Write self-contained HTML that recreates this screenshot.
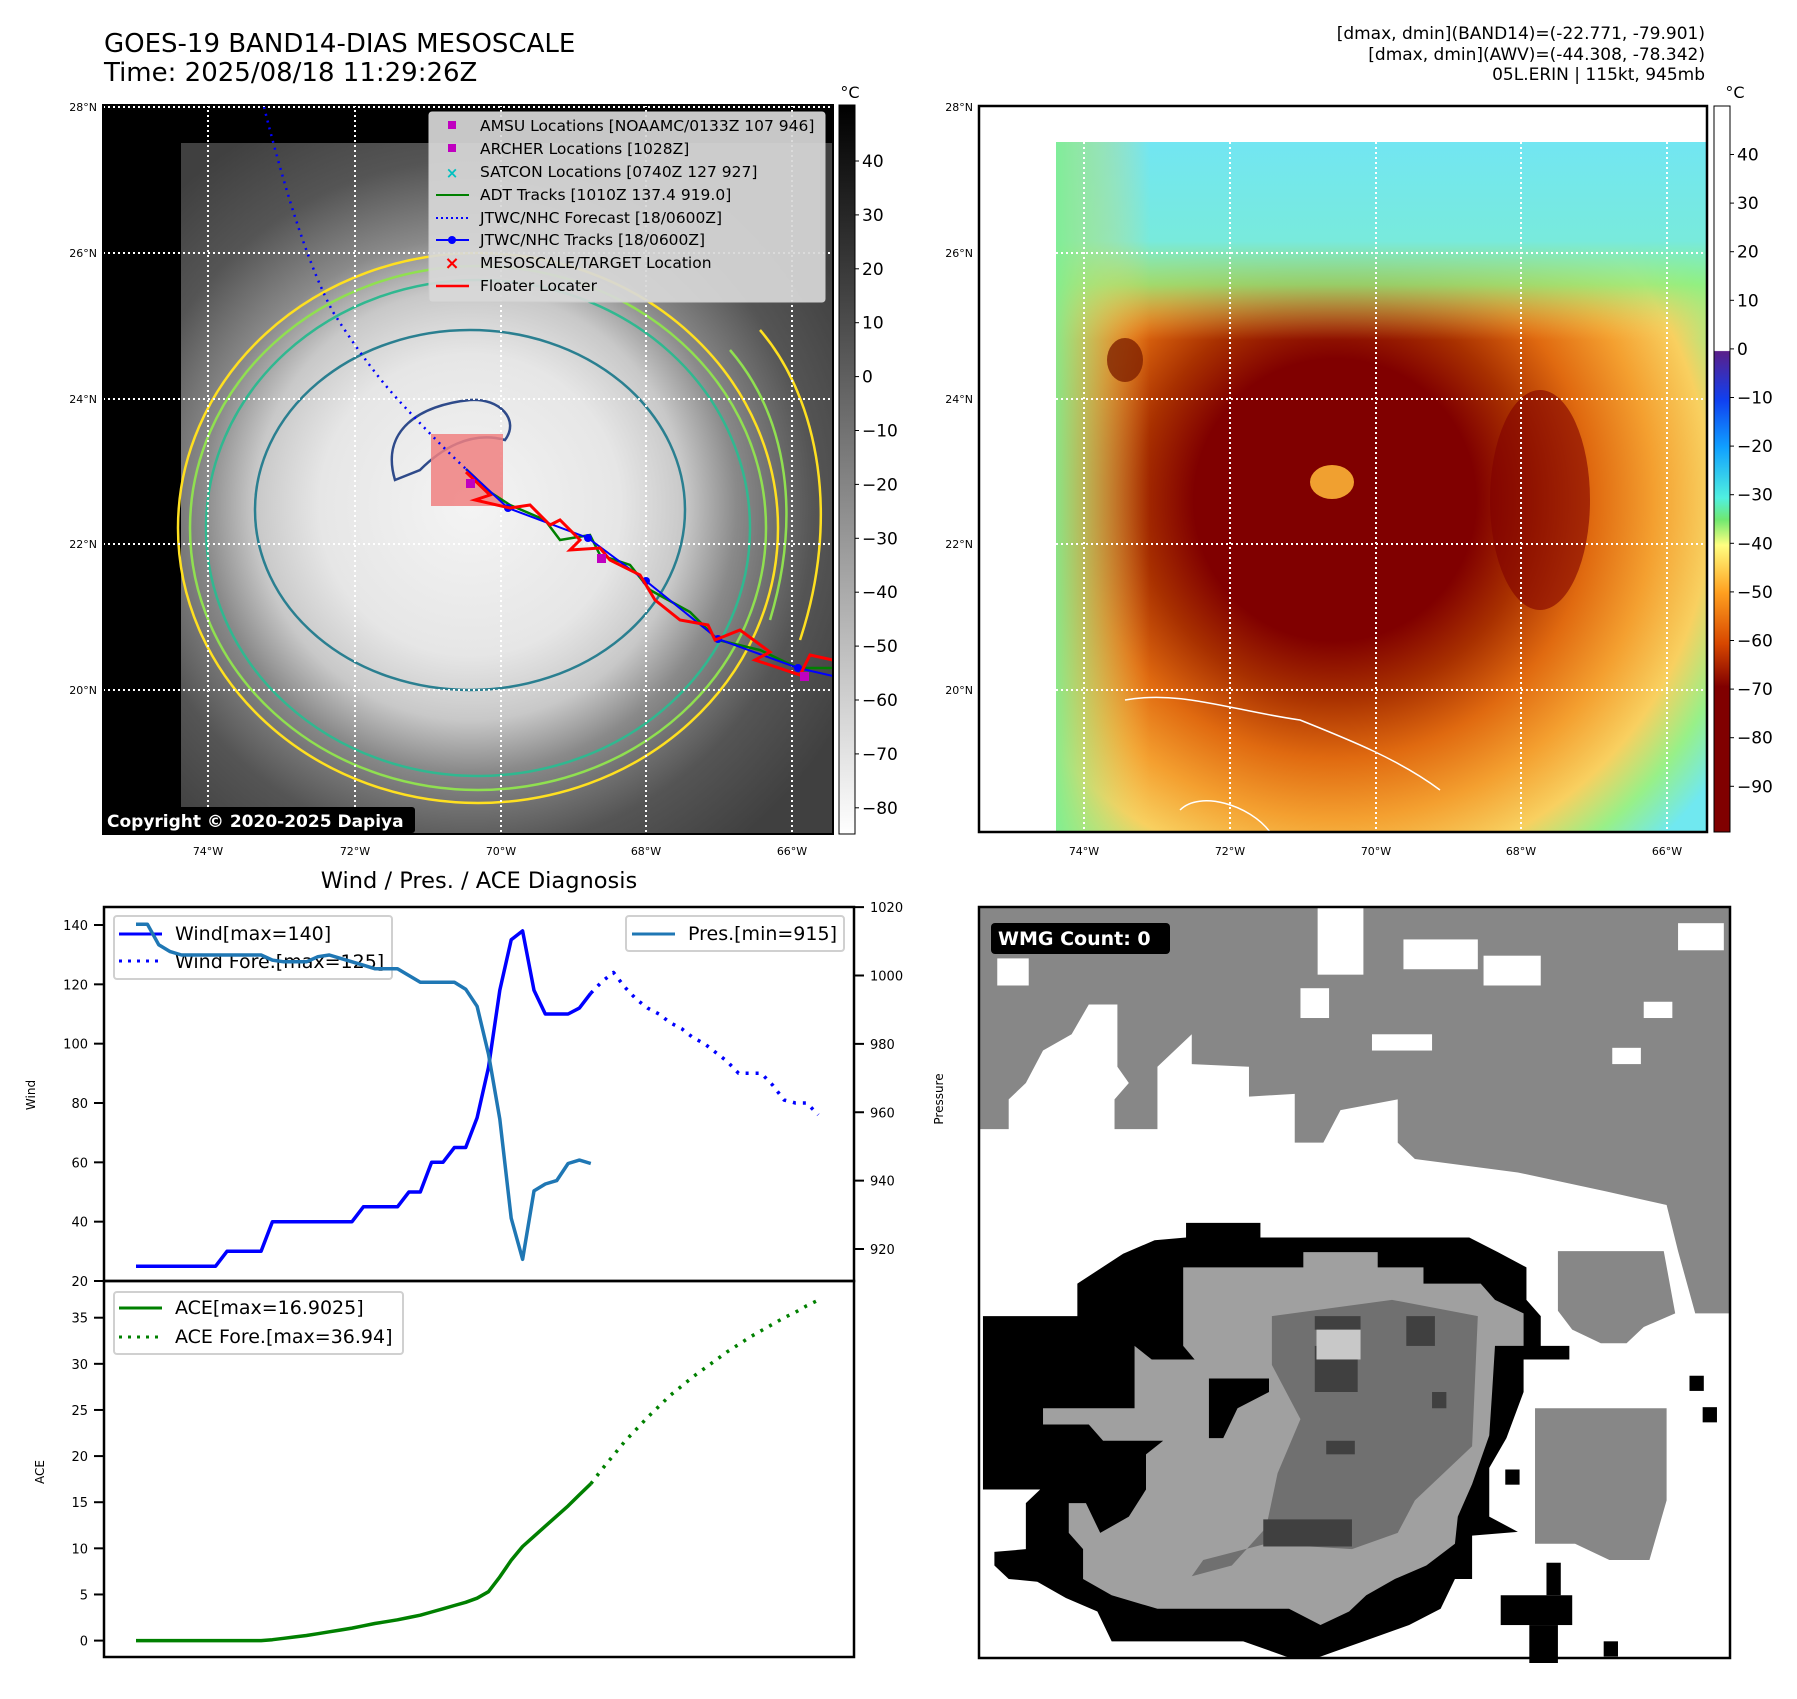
<!DOCTYPE html>
<html><head><meta charset="utf-8">
<style>
html,body{margin:0;padding:0;background:#fff;}
body{width:1797px;height:1694px;position:relative;overflow:hidden;font-family:"Liberation Sans","DejaVu Sans",sans-serif;}
svg text{font-family:"DejaVu Sans","Liberation Sans",sans-serif;}
</style></head>
<body>
<svg id="root" width="1797" height="1694" viewBox="0 0 1797 1694" xmlns="http://www.w3.org/2000/svg">
<defs>
  <radialGradient id="irGray" cx="470" cy="505" r="430" gradientUnits="userSpaceOnUse">
    <stop offset="0" stop-color="#f4f4f4"/>
    <stop offset="0.35" stop-color="#e6e6e6"/>
    <stop offset="0.5" stop-color="#c8c8c8"/>
    <stop offset="0.62" stop-color="#8a8a8a"/>
    <stop offset="0.8" stop-color="#555"/>
    <stop offset="1" stop-color="#404040"/>
  </radialGradient>
  <radialGradient id="irColor" cx="1335" cy="500" r="470" gradientUnits="userSpaceOnUse">
    <stop offset="0" stop-color="#800000"/>
    <stop offset="0.3" stop-color="#800000"/>
    <stop offset="0.42" stop-color="#a83000"/>
    <stop offset="0.55" stop-color="#e06a10"/>
    <stop offset="0.68" stop-color="#f4a030"/>
    <stop offset="0.8" stop-color="#f8d060"/>
    <stop offset="0.9" stop-color="#98f088"/>
    <stop offset="1" stop-color="#70e8f0"/>
  </radialGradient>
  <linearGradient id="topCyan" x1="0" y1="142" x2="0" y2="340" gradientUnits="userSpaceOnUse">
    <stop offset="0" stop-color="#72e6f2" stop-opacity="1"/>
    <stop offset="0.5" stop-color="#78eadc" stop-opacity="1"/>
    <stop offset="0.72" stop-color="#90f080" stop-opacity="0.8"/>
    <stop offset="1" stop-color="#f8d060" stop-opacity="0"/>
  </linearGradient>
  <linearGradient id="leftGreen" x1="1056" y1="0" x2="1150" y2="0" gradientUnits="userSpaceOnUse">
    <stop offset="0" stop-color="#80ee90" stop-opacity="0.9"/>
    <stop offset="1" stop-color="#f8d060" stop-opacity="0"/>
  </linearGradient>
  <linearGradient id="cbGray" x1="0" y1="0" x2="0" y2="1">
    <stop offset="0" stop-color="#000"/><stop offset="1" stop-color="#fff"/>
  </linearGradient>
  <linearGradient id="cbColor" x1="0" y1="106" x2="0" y2="832" gradientUnits="userSpaceOnUse">
    <stop offset="0" stop-color="#fff"/>
    <stop offset="0.337" stop-color="#fff"/>
    <stop offset="0.338" stop-color="#5a1f8a"/>
    <stop offset="0.405" stop-color="#1040f0"/>
    <stop offset="0.47" stop-color="#10a0ff"/>
    <stop offset="0.54" stop-color="#50f0e0"/>
    <stop offset="0.57" stop-color="#70e870"/>
    <stop offset="0.605" stop-color="#ffff80"/>
    <stop offset="0.67" stop-color="#ffa020"/>
    <stop offset="0.74" stop-color="#d84800"/>
    <stop offset="0.8" stop-color="#800000"/>
    <stop offset="1" stop-color="#800000"/>
  </linearGradient>
  <clipPath id="clipL"><rect x="103" y="105" width="730" height="729"/></clipPath>
  <clipPath id="clipR"><rect x="979" y="106" width="728" height="726"/></clipPath>
</defs>

<text x="104" y="52" font-size="26" fill="#000">GOES-19 BAND14-DIAS MESOSCALE</text>
<text x="104" y="81" font-size="26" fill="#000">Time: 2025/08/18 11:29:26Z</text>
<g font-size="17" fill="#000" text-anchor="end">
  <text x="1705" y="39">[dmax, dmin](BAND14)=(-22.771, -79.901)</text>
  <text x="1705" y="60">[dmax, dmin](AWV)=(-44.308, -78.342)</text>
  <text x="1705" y="80">05L.ERIN | 115kt, 945mb</text>
</g>

<!-- top-left map -->
<g clip-path="url(#clipL)">
  <rect x="103" y="105" width="730" height="729" fill="#000"/>
  <rect x="181" y="143" width="652" height="691" fill="url(#irGray)"/>
  <g fill="none" stroke-width="2.5">
    <ellipse cx="478" cy="528" rx="300" ry="275" stroke="#ffe020"/>
    <ellipse cx="478" cy="528" rx="288" ry="262" stroke="#90e050"/>
    <ellipse cx="478" cy="528" rx="272" ry="248" stroke="#30b890"/>
    <ellipse cx="470" cy="510" rx="215" ry="180" stroke="#2a7f90"/>
    <path d="M395,480 C380,430 420,405 470,400 C500,398 520,420 505,440 C470,430 440,450 420,470 Z" stroke="#2e4a8a"/>
    <path d="M760,330 C820,400 840,520 800,640" stroke="#ffe020"/>
    <path d="M730,350 C790,420 800,520 770,620" stroke="#90e050"/>
  </g>
  <g stroke="#fff" stroke-width="2" stroke-dasharray="2,3">
    <line x1="208" y1="105" x2="208" y2="834"/><line x1="355" y1="105" x2="355" y2="834"/>
    <line x1="501" y1="105" x2="501" y2="834"/><line x1="646" y1="105" x2="646" y2="834"/>
    <line x1="792" y1="105" x2="792" y2="834"/>
    <line x1="103" y1="107" x2="833" y2="107"/><line x1="103" y1="253" x2="833" y2="253"/>
    <line x1="103" y1="399" x2="833" y2="399"/><line x1="103" y1="544" x2="833" y2="544"/>
    <line x1="103" y1="690" x2="833" y2="690"/>
  </g>
  <rect x="431" y="434" width="72" height="72" fill="#f08080" opacity="0.85"/>
  <path d="M264,107 Q300,250 333,312 Q370,370 402,404 Q440,445 466,469" fill="none" stroke="#0000ff" stroke-width="2.5" stroke-dasharray="2,5"/>
  <polyline points="466,469 490,492 510,505 545,520 560,540 590,535 600,555 630,565 650,590 690,612 718,640 760,650 798,668 833,668" fill="none" stroke="#008000" stroke-width="2.5"/>
  <polyline points="466,469 508,508 588,538 646,581 718,639 798,668 833,676" fill="none" stroke="#0000ff" stroke-width="2"/>
  <g fill="#0000ff"><circle cx="508" cy="508" r="4"/><circle cx="588" cy="538" r="4"/><circle cx="646" cy="581" r="4"/><circle cx="718" cy="639" r="4"/><circle cx="798" cy="668" r="4"/></g>
  <polyline points="466,472 490,495 475,500 510,508 530,505 550,525 560,520 580,540 570,550 600,548 610,560 640,575 655,600 680,620 708,625 715,640 740,630 770,652 755,660 800,675 810,655 833,660" fill="none" stroke="#ff0000" stroke-width="3"/>
  <g fill="#c000c0"><rect x="466" y="479" width="9" height="9"/><rect x="597" y="554" width="9" height="9"/><rect x="800" y="672" width="9" height="9"/></g>
  <rect x="102" y="807" width="313" height="26" rx="3" fill="#000"/>
  <text x="107" y="827" font-size="17" font-weight="bold" fill="#fff">Copyright © 2020-2025 Dapiya</text>
</g>
<rect x="103" y="105" width="730" height="729" fill="none" stroke="#000" stroke-width="2"/>
<g>
  <rect x="429" y="112" width="396" height="190" rx="3" fill="#d8d8d8" fill-opacity="0.92" stroke="#ccc"/>
  <g font-size="15.5" fill="#000">
    <rect x="448" y="121" width="8" height="8" fill="#c000c0"/><text x="480" y="131">AMSU Locations [NOAAMC/0133Z 107 946]</text>
    <rect x="448" y="144" width="8" height="8" fill="#c000c0"/><text x="480" y="154">ARCHER Locations [1028Z]</text>
    <text x="452" y="178" text-anchor="middle" fill="#00c0c0" font-size="15" font-weight="bold">×</text><text x="480" y="177">SATCON Locations [0740Z 127 927]</text>
    <line x1="436" y1="195" x2="469" y2="195" stroke="#008000" stroke-width="2"/><text x="480" y="200">ADT Tracks [1010Z 137.4 919.0]</text>
    <line x1="436" y1="218" x2="469" y2="218" stroke="#0000ff" stroke-width="2" stroke-dasharray="2,3"/><text x="480" y="223">JTWC/NHC Forecast [18/0600Z]</text>
    <line x1="436" y1="240" x2="469" y2="240" stroke="#0000ff" stroke-width="2"/><circle cx="452" cy="240" r="4" fill="#0000ff"/><text x="480" y="245">JTWC/NHC Tracks [18/0600Z]</text>
    <text x="452" y="269" text-anchor="middle" fill="#ff0000" font-size="18" font-weight="bold">×</text><text x="480" y="268">MESOSCALE/TARGET Location</text>
    <line x1="436" y1="286" x2="469" y2="286" stroke="#ff0000" stroke-width="2.5"/><text x="480" y="291">Floater Locater</text>
  </g>
</g>
<rect x="839" y="105" width="16" height="729" fill="url(#cbGray)" stroke="#000" stroke-width="1"/>
<text x="850" y="98" font-size="16" text-anchor="middle">°C</text>
<g id="cbL" font-size="17" fill="#000"></g>
<g font-size="11" fill="#000">
  <text x="97" y="111" text-anchor="end">28°N</text><text x="97" y="257" text-anchor="end">26°N</text>
  <text x="97" y="403" text-anchor="end">24°N</text><text x="97" y="548" text-anchor="end">22°N</text>
  <text x="97" y="694" text-anchor="end">20°N</text>
  <text x="208" y="855" text-anchor="middle">74°W</text><text x="355" y="855" text-anchor="middle">72°W</text>
  <text x="501" y="855" text-anchor="middle">70°W</text><text x="646" y="855" text-anchor="middle">68°W</text>
  <text x="792" y="855" text-anchor="middle">66°W</text>
</g>

<!-- top-right map -->
<g clip-path="url(#clipR)">
  <rect x="979" y="106" width="728" height="726" fill="#fff"/>
  <rect x="1056" y="142" width="651" height="690" fill="url(#irColor)"/>
  <rect x="1056" y="142" width="651" height="200" fill="url(#topCyan)"/>
  <rect x="1056" y="142" width="100" height="690" fill="url(#leftGreen)"/>
  <ellipse cx="1125" cy="360" rx="18" ry="22" fill="#802000" opacity="0.8"/>
  <ellipse cx="1540" cy="500" rx="50" ry="110" fill="#800000" opacity="0.6"/>
  <ellipse cx="1332" cy="482" rx="22" ry="17" fill="#f0a030"/>
  <g stroke="#fff" stroke-width="2" stroke-dasharray="2,3">
    <line x1="1084" y1="142" x2="1084" y2="832"/><line x1="1230" y1="142" x2="1230" y2="832"/>
    <line x1="1376" y1="142" x2="1376" y2="832"/><line x1="1521" y1="142" x2="1521" y2="832"/>
    <line x1="1667" y1="142" x2="1667" y2="832"/>
    <line x1="1056" y1="253" x2="1707" y2="253"/><line x1="1056" y1="399" x2="1707" y2="399"/>
    <line x1="1056" y1="544" x2="1707" y2="544"/><line x1="1056" y1="690" x2="1707" y2="690"/>
  </g>
  <path d="M1125,700 C1180,690 1230,710 1300,720 C1350,740 1400,760 1440,790 M1180,810 C1200,790 1250,805 1270,832" fill="none" stroke="#fff" stroke-width="1.5"/>
</g>
<rect x="979" y="106" width="728" height="726" fill="none" stroke="#000" stroke-width="2.5"/>
<rect x="1714" y="106" width="16" height="726" fill="url(#cbColor)" stroke="#000" stroke-width="1"/>
<text x="1735" y="98" font-size="16" text-anchor="middle">°C</text>
<g id="cbR" font-size="17" fill="#000"></g>
<g font-size="11" fill="#000">
  <text x="973" y="111" text-anchor="end">28°N</text><text x="973" y="257" text-anchor="end">26°N</text>
  <text x="973" y="403" text-anchor="end">24°N</text><text x="973" y="548" text-anchor="end">22°N</text>
  <text x="973" y="694" text-anchor="end">20°N</text>
  <text x="1084" y="855" text-anchor="middle">74°W</text><text x="1230" y="855" text-anchor="middle">72°W</text>
  <text x="1376" y="855" text-anchor="middle">70°W</text><text x="1521" y="855" text-anchor="middle">68°W</text>
  <text x="1667" y="855" text-anchor="middle">66°W</text>
</g>

<text x="479" y="888" font-size="22.5" text-anchor="middle">Wind / Pres. / ACE Diagnosis</text>
<g id="chart"></g>

<!-- bottom-right WMG -->
<g>
  <rect x="979" y="907" width="751" height="751" fill="#fff"/>
  <g transform="translate(900,850) scale(0.5721,0.542)">
    <path d="M140,105 L1450,105 L1450,855 L1390,855 L1360,740 L1340,655 L1235,630 L1080,595 L900,570 L870,540 L870,460 L770,480 L740,540 L690,540 L690,450 L610,455 L610,400 L510,395 L510,340 L450,400 L450,515 L375,515 L375,460 L400,430 L380,400 L380,285 L330,285 L300,340 L250,370 L220,430 L190,460 L190,515 L140,515 Z" fill="#878787"/>
    <g fill="#fff">
      <rect x="730" y="105" width="80" height="125"/><rect x="880" y="165" width="130" height="55"/>
      <rect x="1360" y="135" width="80" height="50"/><rect x="1020" y="195" width="100" height="55"/>
      <rect x="1300" y="280" width="50" height="30"/><rect x="1245" y="365" width="50" height="30"/>
      <rect x="170" y="200" width="55" height="50"/><rect x="700" y="255" width="50" height="55"/>
      <rect x="825" y="340" width="105" height="30"/>
    </g>
    <path d="M1150,740 L1335,740 L1355,855 L1300,880 L1270,910 L1225,910 L1175,885 L1150,850 Z" fill="#878787"/>
    <path d="M1110,1030 L1340,1030 L1340,1200 L1310,1310 L1240,1310 L1180,1280 L1110,1280 L1110,1200 Z" fill="#878787"/>
    <path d="M500,688 L630,688 L630,715 L995,715 L1045,742 L1095,770 L1095,830 L1120,860 L1120,915 L1170,915 L1170,940 L1090,940 L1090,1000 L1060,1085 L1030,1140 L1030,1230 L1080,1258 L1000,1265 L1000,1345 L970,1345 L945,1400 L890,1430 L810,1460 L730,1490 L680,1490 L600,1460 L370,1460 L345,1405 L290,1380 L240,1350 L190,1345 L165,1320 L165,1295 L220,1290 L220,1205 L245,1180 L145,1180 L145,860 L310,860 L310,800 L390,745 L445,720 L500,715 Z" fill="#000"/>
    <path d="M495,770 L705,770 L705,742 L835,742 L835,770 L915,770 L915,800 L1015,800 L1040,830 L1090,855 L1090,915 L1040,915 L1035,1000 L1030,1080 L1000,1170 L975,1230 L970,1280 L920,1320 L865,1345 L815,1375 L785,1405 L735,1430 L680,1400 L450,1400 L370,1375 L320,1345 L320,1290 L295,1260 L295,1205 L325,1205 L350,1260 L400,1230 L430,1180 L430,1115 L460,1090 L355,1090 L330,1060 L250,1060 L250,1030 L410,1030 L410,915 L440,940 L515,940 L495,915 L495,860 Z" fill="#a0a0a0"/>
    <path d="M540,975 L645,975 L645,1000 L590,1030 L565,1085 L540,1085 Z" fill="#000"/>
    <path d="M650,860 L860,830 L1010,860 L1000,1100 L900,1200 L870,1260 L790,1290 L640,1280 L530,1310 L510,1340 L580,1320 L640,1250 L660,1150 L700,1050 L650,950 Z" fill="#707070"/>
    <g fill="#404040">
      <rect x="725" y="860" width="80" height="25"/><rect x="725" y="915" width="75" height="85"/>
      <rect x="885" y="860" width="50" height="55"/><rect x="745" y="1090" width="50" height="25"/>
      <rect x="635" y="1235" width="155" height="50"/><rect x="930" y="1000" width="25" height="30"/>
    </g>
    <rect x="728" y="885" width="77" height="55" fill="#c8c8c8"/>
    <g fill="#000"><rect x="1380" y="970" width="25" height="28"/><rect x="1403" y="1028" width="25" height="28"/><rect x="1058" y="1143" width="25" height="28"/><rect x="1230" y="1460" width="25" height="28"/>
    <rect x="1050" y="1375" width="125" height="55"/><rect x="1100" y="1430" width="50" height="70"/><rect x="1130" y="1315" width="25" height="60"/></g>
  </g>
  <rect x="979" y="907" width="751" height="751" fill="none" stroke="#000" stroke-width="2.5"/>
  <rect x="991" y="923" width="179" height="31" rx="4" fill="#000"/>
  <text x="998" y="945" font-size="19" font-weight="bold" fill="#fff">WMG Count: 0</text>
</g>
</svg>

<script>
const windObs = [25,25,25,25,25,25,25,25,30,30,30,30,40,40,40,40,40,40,40,40,45,45,45,45,50,50,60,60,65,65,75,92,118,135,138,118,110,110,110,112,117];
const windFore = [117,121,124,119,115,112,110,107,105,102,100,97,94,90,90,90,86,81,80,80,76];
const presObs = [1015,1015,1009,1007,1006,1006,1006,1006,1006,1006,1006,1006,1004.5,1004,1004,1004,1005.5,1006,1005,1004,1003,1002,1002,1002,1000,998,998,998,998,996,991,977,958,929,917,937,939,940,945,946,945];
const aceObs = [0,0,0,0,0,0,0,0,0,0,0,0,0.1,0.25,0.4,0.55,0.75,0.95,1.15,1.35,1.6,1.85,2.05,2.25,2.5,2.75,3.1,3.45,3.8,4.15,4.6,5.3,6.9,8.7,10.2,11.3,12.4,13.5,14.6,15.8,17.0];
const aceFore = [17,18.6,20.1,21.6,22.9,24.2,25.4,26.6,27.6,28.6,29.5,30.4,31.3,32.1,32.9,33.6,34.3,35.0,35.6,36.3,36.9];
const windTicks = [20,40,60,80,100,120,140];
const presTicks = [920,940,960,980,1000,1020];
const aceTicks = [0,5,10,15,20,25,30,35];
const cbGrayTicks = [40,30,20,10,0,-10,-20,-30,-40,-50,-60,-70,-80];
const cbColorTicks = [40,30,20,10,0,-10,-20,-30,-40,-50,-60,-70,-80,-90];

const NS = 'http://www.w3.org/2000/svg';
function mk(tag, attrs, parent){ const e=document.createElementNS(NS,tag); for(const k in attrs) e.setAttribute(k,attrs[k]); parent.appendChild(e); return e; }

const L=104, R=854, T1=907, B1=1281, T2=1281, B2=1657;
const xOf = i => 136 + 11.37*i;
const yWind = v => 1281 - (v-20)*(1281-925)/120;
const yPres = v => 1249 - (v-920)*(1249-975.5)/80;
const yAce = v => 1640.6 - v*(1640.6-1317.7)/35;
const fmt = v => String(v).replace('-', '\u2212');

const chart = document.getElementById('chart');
mk('rect',{x:L,y:T1,width:R-L,height:B2-T1,fill:'#fff'},chart);

function poly(vals, off, yf, color, w, dash, name){
  const pts = vals.map((v,i)=> xOf(i+off).toFixed(1)+','+yf(v).toFixed(1)).join(' ');
  const p = mk('polyline',{points:pts,fill:'none',stroke:color,'stroke-width':w,'stroke-linejoin':'round'},chart);
  if(dash) p.setAttribute('stroke-dasharray',dash);
  
  
  return p;
}
const wl = mk('g',{},chart);


mk('rect',{x:114,y:916,width:278,height:63,rx:3,fill:'#fff',stroke:'#d0d0d0','stroke-width':2},wl);
mk('line',{x1:119,y1:934,x2:162,y2:934,stroke:'#0000ff','stroke-width':3},wl);
mk('line',{x1:119,y1:961,x2:162,y2:961,stroke:'#0000ff','stroke-width':3,'stroke-dasharray':'3,6'},wl);
let t=mk('text',{x:175,y:940,'font-size':19},wl); t.textContent='Wind[max=140]';
t=mk('text',{x:175,y:968,'font-size':19},wl); t.textContent='Wind Fore.[max=125]';

poly(windObs,0,yWind,'#0000ff',3.5,null,'wind-line');
poly(windFore,40,yWind,'#0000ff',3.5,'3,7','wind-forecast-line');
poly(presObs,0,yPres,'#1f77b4',3.5,null,'pressure-line');
poly(aceObs,0,yAce,'#008000',3.5,null,'ace-line');
poly(aceFore,40,yAce,'#008000',3.5,'3,7','ace-forecast-line');

const pl = mk('g',{},chart);


mk('rect',{x:626,y:916,width:218,height:35,rx:3,fill:'#fff',stroke:'#d0d0d0','stroke-width':2},pl);
mk('line',{x1:632,y1:934,x2:675,y2:934,stroke:'#1f77b4','stroke-width':3},pl);
t=mk('text',{x:688,y:940,'font-size':19},pl); t.textContent='Pres.[min=915]';
const al = mk('g',{},chart);


mk('rect',{x:114,y:1292,width:289,height:62,rx:3,fill:'#fff',stroke:'#d0d0d0','stroke-width':2},al);
mk('line',{x1:119,y1:1308,x2:162,y2:1308,stroke:'#008000','stroke-width':3},al);
mk('line',{x1:119,y1:1337,x2:162,y2:1337,stroke:'#008000','stroke-width':3,'stroke-dasharray':'3,6'},al);
t=mk('text',{x:175,y:1314,'font-size':19},al); t.textContent='ACE[max=16.9025]';
t=mk('text',{x:175,y:1343,'font-size':19},al); t.textContent='ACE Fore.[max=36.94]';

mk('rect',{x:L,y:T1,width:R-L,height:B1-T1,fill:'none',stroke:'#000','stroke-width':2.5},chart);
mk('rect',{x:L,y:T2,width:R-L,height:B2-T2,fill:'none',stroke:'#000','stroke-width':2.5},chart);

function ticks(arr, yf, side, name){
  const g = mk('g',{'font-size':13},chart);
  
  
  arr.forEach(v=>{
    const y=yf(v);
    if(side==='L'){
      mk('line',{x1:L-10,y1:y,x2:L,y2:y,stroke:'#000','stroke-width':2},g);
      const tx=mk('text',{x:L-16,y:y+5,'text-anchor':'end'},g); tx.textContent=v;
    } else {
      mk('line',{x1:R,y1:y,x2:R+10,y2:y,stroke:'#000','stroke-width':2},g);
      const tx=mk('text',{x:R+16,y:y+5}, g); tx.textContent=v;
    }
  });
}
ticks(windTicks,yWind,'L','wind-axis-ticks');
ticks(presTicks,yPres,'R','pressure-axis-ticks');
ticks(aceTicks,yAce,'L','ace-axis-ticks');
let lab=mk('text',{x:0,y:0,'font-size':12,'text-anchor':'middle',transform:'translate(35,1095) rotate(-90)'},chart); lab.textContent='Wind';


lab=mk('text',{x:0,y:0,'font-size':12,'text-anchor':'middle',transform:'translate(943,1099) rotate(-90)'},chart); lab.textContent='Pressure';


lab=mk('text',{x:0,y:0,'font-size':12,'text-anchor':'middle',transform:'translate(44,1472) rotate(-90)'},chart); lab.textContent='ACE';



const cbL=document.getElementById('cbL');
cbGrayTicks.forEach(v=>{ const y=161+(40-v)*5.39;
  mk('line',{x1:855,y1:y,x2:859,y2:y,stroke:'#000'},cbL);
  const tx=mk('text',{x:862,y:y+6},cbL); tx.textContent=fmt(v); });
const cbR=document.getElementById('cbR');
cbColorTicks.forEach(v=>{ const y=154.5+(40-v)*4.86;
  mk('line',{x1:1730,y1:y,x2:1734,y2:y,stroke:'#000'},cbR);
  const tx=mk('text',{x:1737,y:y+6},cbR); tx.textContent=fmt(v); });
</script>
</body></html>
